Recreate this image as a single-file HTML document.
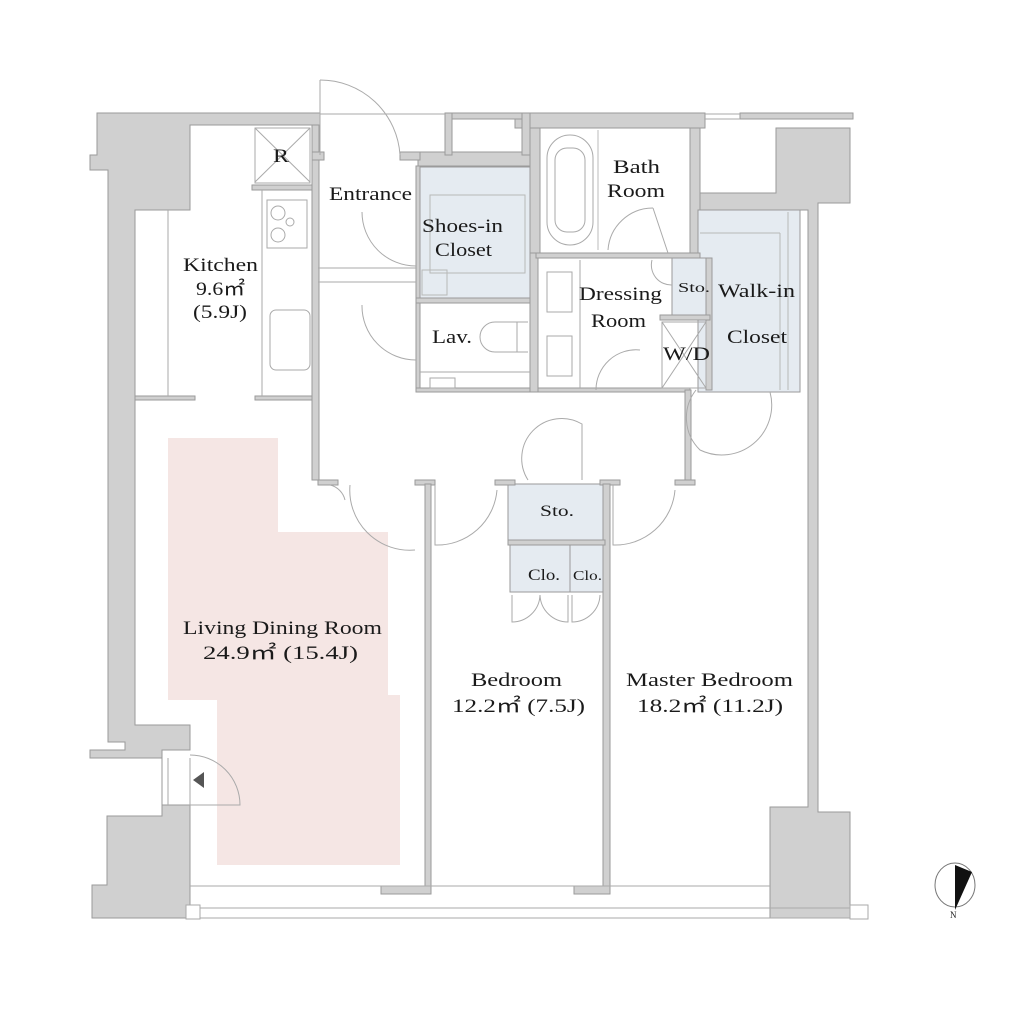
<!DOCTYPE html>
<html><head><meta charset="utf-8"><style>
html,body{margin:0;padding:0;background:#fff;}
svg{display:block}
text{font-family:"Liberation Serif",serif;fill:#1a1a1a;}
</style></head><body>
<svg width="1024" height="1024" viewBox="0 0 1024 1024" xmlns="http://www.w3.org/2000/svg">
<g fill="#d0d0d0" stroke="#9a9a9a" stroke-width="1">
<path d="M97,113 L320,113 L320,125 L190,125 L190,210 L135,210 L135,725 L190,725 L190,750 L162,750 L162,805 L190,805 L190,918 L92,918 L92,885 L107,885 L107,816 L162,816 L162,758 L90,758 L90,750 L125,750 L125,742 L108,742 L108,170 L90,170 L90,155 L97,155 Z"/>
<path d="M700,193 L776,193 L776,128 L850,128 L850,203 L818,203 L818,812 L850,812 L850,918 L770,918 L770,807 L808,807 L808,210 L700,210 Z"/>
<rect x="515" y="113" width="190" height="15"/>
<rect x="740" y="113" width="113" height="6"/>
<rect x="530" y="128" width="10" height="130"/>
<rect x="690" y="128" width="10" height="125"/>
<rect x="418" y="152" width="112" height="14"/>
<rect x="445" y="113" width="80" height="6"/>
<rect x="445" y="113" width="7" height="42"/>
<rect x="522" y="113" width="8" height="42"/>
<rect x="312" y="125" width="7" height="355"/>
<rect x="312" y="152" width="12" height="8"/>
<rect x="400" y="152" width="20" height="8"/>
</g>
<g stroke="#aaa" fill="none">
<line x1="320" y1="114" x2="445" y2="114"/>
<line x1="705" y1="114" x2="740" y2="114"/>
<line x1="705" y1="119" x2="740" y2="119"/>
</g>
<g fill="#e5ebf1" stroke="#9a9a9a">
<rect x="420" y="167" width="110" height="131"/>
<rect x="698" y="210" width="102" height="182"/>
<rect x="672" y="258" width="38" height="57"/>
<rect x="508" y="484" width="97" height="56"/>
<rect x="510" y="545" width="60" height="47"/>
<rect x="570" y="545" width="35" height="47"/>
</g>
<g fill="none" stroke="#b8b8b8">
<rect x="430" y="195" width="95" height="78"/>
<rect x="422" y="270" width="25" height="25"/>
<line x1="700" y1="233" x2="780" y2="233"/>
<line x1="780" y1="233" x2="780" y2="390"/>
<line x1="788" y1="212" x2="788" y2="390"/>
</g>
<path d="M168,438 L278,438 L278,532 L388,532 L388,695 L400,695 L400,865 L217,865 L217,700 L168,700 Z" fill="#f5e6e4"/>
<g fill="#d0d0d0" stroke="#9a9a9a">
<rect x="252" y="185" width="60" height="5"/>
<rect x="135" y="396" width="60" height="4"/>
<rect x="255" y="396" width="57" height="4"/>
<rect x="416" y="166" width="4" height="225"/>
<rect x="416" y="298" width="114" height="5"/>
<rect x="416" y="388" width="274" height="4"/>
<rect x="530" y="253" width="8" height="139"/>
<rect x="536" y="253" width="164" height="5"/>
<rect x="706" y="258" width="6" height="132"/>
<rect x="660" y="315" width="50" height="5"/>
<rect x="685" y="390" width="6" height="90"/>
<rect x="318" y="480" width="20" height="5"/>
<rect x="415" y="480" width="20" height="5"/>
<rect x="495" y="480" width="20" height="5"/>
<rect x="600" y="480" width="20" height="5"/>
<rect x="675" y="480" width="20" height="5"/>
<rect x="425" y="484" width="6" height="402"/>
<rect x="603" y="484" width="7" height="402"/>
<rect x="508" y="540" width="97" height="5"/>
<rect x="381" y="886" width="50" height="8"/>
<rect x="574" y="886" width="36" height="8"/>
</g>
<rect x="540" y="128" width="150" height="125" fill="#fff" stroke="#9a9a9a"/>
<line x1="598" y1="130" x2="598" y2="250" stroke="#bbb"/>
<rect x="547" y="135" width="46" height="110" rx="23" fill="none" stroke="#aaa"/>
<rect x="555" y="148" width="30" height="84" rx="12" fill="none" stroke="#aaa"/>
<g fill="none" stroke="#aaa">
<line x1="168" y1="210" x2="168" y2="396"/>
<line x1="262" y1="190" x2="262" y2="396"/>
<rect x="267" y="200" width="40" height="48"/>
<circle cx="278" cy="213" r="7"/><circle cx="290" cy="222" r="4"/><circle cx="278" cy="235" r="7"/>
<rect x="270" y="310" width="40" height="60" rx="6"/>
<line x1="255" y1="128" x2="310" y2="182"/><line x1="310" y1="128" x2="255" y2="182"/>
<rect x="255" y="128" width="55" height="55"/>
<line x1="318" y1="268" x2="416" y2="268"/>
<line x1="318" y1="282" x2="416" y2="282"/>
<line x1="420" y1="372" x2="530" y2="372"/>
<rect x="430" y="378" width="25" height="10"/>
<path d="M528,322 L495,322 A12,12 0 0 0 495,352 L528,352"/>
<line x1="517" y1="322" x2="517" y2="352"/>
<line x1="580" y1="260" x2="580" y2="388"/>
<rect x="547" y="272" width="25" height="40"/><rect x="547" y="336" width="25" height="40"/>
<rect x="662" y="322" width="44" height="66"/>
<line x1="662" y1="322" x2="706" y2="388"/><line x1="706" y1="322" x2="662" y2="388"/>
<path d="M320,80 A80,80 0 0 1 400,155"/><line x1="320" y1="80" x2="320" y2="155"/>
<path d="M362,212 A54,54 0 0 0 416,266"/>
<path d="M362,305 A54,54 0 0 0 416,360"/>
<path d="M608,250 A45,45 0 0 1 653,208" /><line x1="653" y1="208" x2="668" y2="253"/>
<path d="M596,390 A40,40 0 0 1 640,350"/>
<path d="M652,260 A20,20 0 0 0 672,285"/>
<path d="M696,390 A45,45 0 0 0 700,450 A50,50 0 0 0 770,392"/>
<path d="M528,480 A40,40 0 0 1 582,424 L582,480"/>
<path d="M350,485 A60,60 0 0 0 415,550"/>
<path d="M330,485 A20,20 0 0 1 345,500"/>
<path d="M435,485 L435,545 A60,60 0 0 0 497,490"/>
<path d="M613,485 L613,545 A60,60 0 0 0 675,490"/>
<path d="M512,595 L512,622 A28,28 0 0 0 540,595 M568,595 L568,622 A28,28 0 0 1 540,595"/>
<path d="M572,595 L572,622 A28,28 0 0 0 600,595"/>
<path d="M190,758 L190,805 L240,805 A50,50 0 0 0 190,755"/>
<line x1="168" y1="758" x2="168" y2="805"/>
<line x1="190" y1="886" x2="770" y2="886"/>
<line x1="186" y1="908" x2="865" y2="908"/>
<line x1="186" y1="918" x2="865" y2="918"/>
</g>
<g fill="#fff" stroke="#aaa"><rect x="186" y="905" width="14" height="14"/><rect x="850" y="905" width="18" height="14"/></g>
<polygon points="193,780 204,772 204,788" fill="#555"/>
<g font-size="19" lengthAdjust="spacingAndGlyphs">
<text x="273" y="162" textLength="16" lengthAdjust="spacingAndGlyphs">R</text>
<text x="329" y="200" textLength="83" lengthAdjust="spacingAndGlyphs">Entrance</text>
<text x="422" y="232" textLength="81" lengthAdjust="spacingAndGlyphs">Shoes-in</text>
<text x="435" y="256" textLength="57" lengthAdjust="spacingAndGlyphs">Closet</text>
<text x="613" y="173" textLength="47" lengthAdjust="spacingAndGlyphs">Bath</text>
<text x="607" y="197" textLength="58" lengthAdjust="spacingAndGlyphs">Room</text>
<text x="579" y="300" textLength="83" lengthAdjust="spacingAndGlyphs">Dressing</text>
<text x="591" y="327" textLength="55" lengthAdjust="spacingAndGlyphs">Room</text>
<text x="678" y="292" font-size="14" textLength="32" lengthAdjust="spacingAndGlyphs">Sto.</text>
<text x="718" y="297" textLength="77" lengthAdjust="spacingAndGlyphs">Walk-in</text>
<text x="727" y="343" textLength="60" lengthAdjust="spacingAndGlyphs">Closet</text>
<text x="663" y="360" textLength="47" lengthAdjust="spacingAndGlyphs">W/D</text>
<text x="432" y="343" textLength="40" lengthAdjust="spacingAndGlyphs">Lav.</text>
<text x="183" y="271" textLength="75" lengthAdjust="spacingAndGlyphs">Kitchen</text>
<text x="196" y="295" textLength="49" lengthAdjust="spacingAndGlyphs">9.6㎡</text>
<text x="193" y="318" textLength="54" lengthAdjust="spacingAndGlyphs">(5.9J)</text>
<text x="540" y="516" font-size="16" textLength="34" lengthAdjust="spacingAndGlyphs">Sto.</text>
<text x="528" y="580" font-size="16" textLength="32" lengthAdjust="spacingAndGlyphs">Clo.</text>
<text x="573" y="580" font-size="14" textLength="29" lengthAdjust="spacingAndGlyphs">Clo.</text>
<text x="183" y="634" textLength="199" lengthAdjust="spacingAndGlyphs">Living Dining Room</text>
<text x="203" y="659" textLength="155" lengthAdjust="spacingAndGlyphs">24.9㎡  (15.4J)</text>
<text x="471" y="686" textLength="91" lengthAdjust="spacingAndGlyphs">Bedroom</text>
<text x="452" y="712" textLength="133" lengthAdjust="spacingAndGlyphs">12.2㎡  (7.5J)</text>
<text x="626" y="686" textLength="167" lengthAdjust="spacingAndGlyphs">Master Bedroom</text>
<text x="637" y="712" textLength="146" lengthAdjust="spacingAndGlyphs">18.2㎡  (11.2J)</text>
</g>
<ellipse cx="955" cy="885" rx="20" ry="22" fill="none" stroke="#777"/>
<polygon points="955,865 972,872 955,910" fill="#111"/>
<text x="950" y="918" font-size="9">N</text>
</svg>
</body></html>
